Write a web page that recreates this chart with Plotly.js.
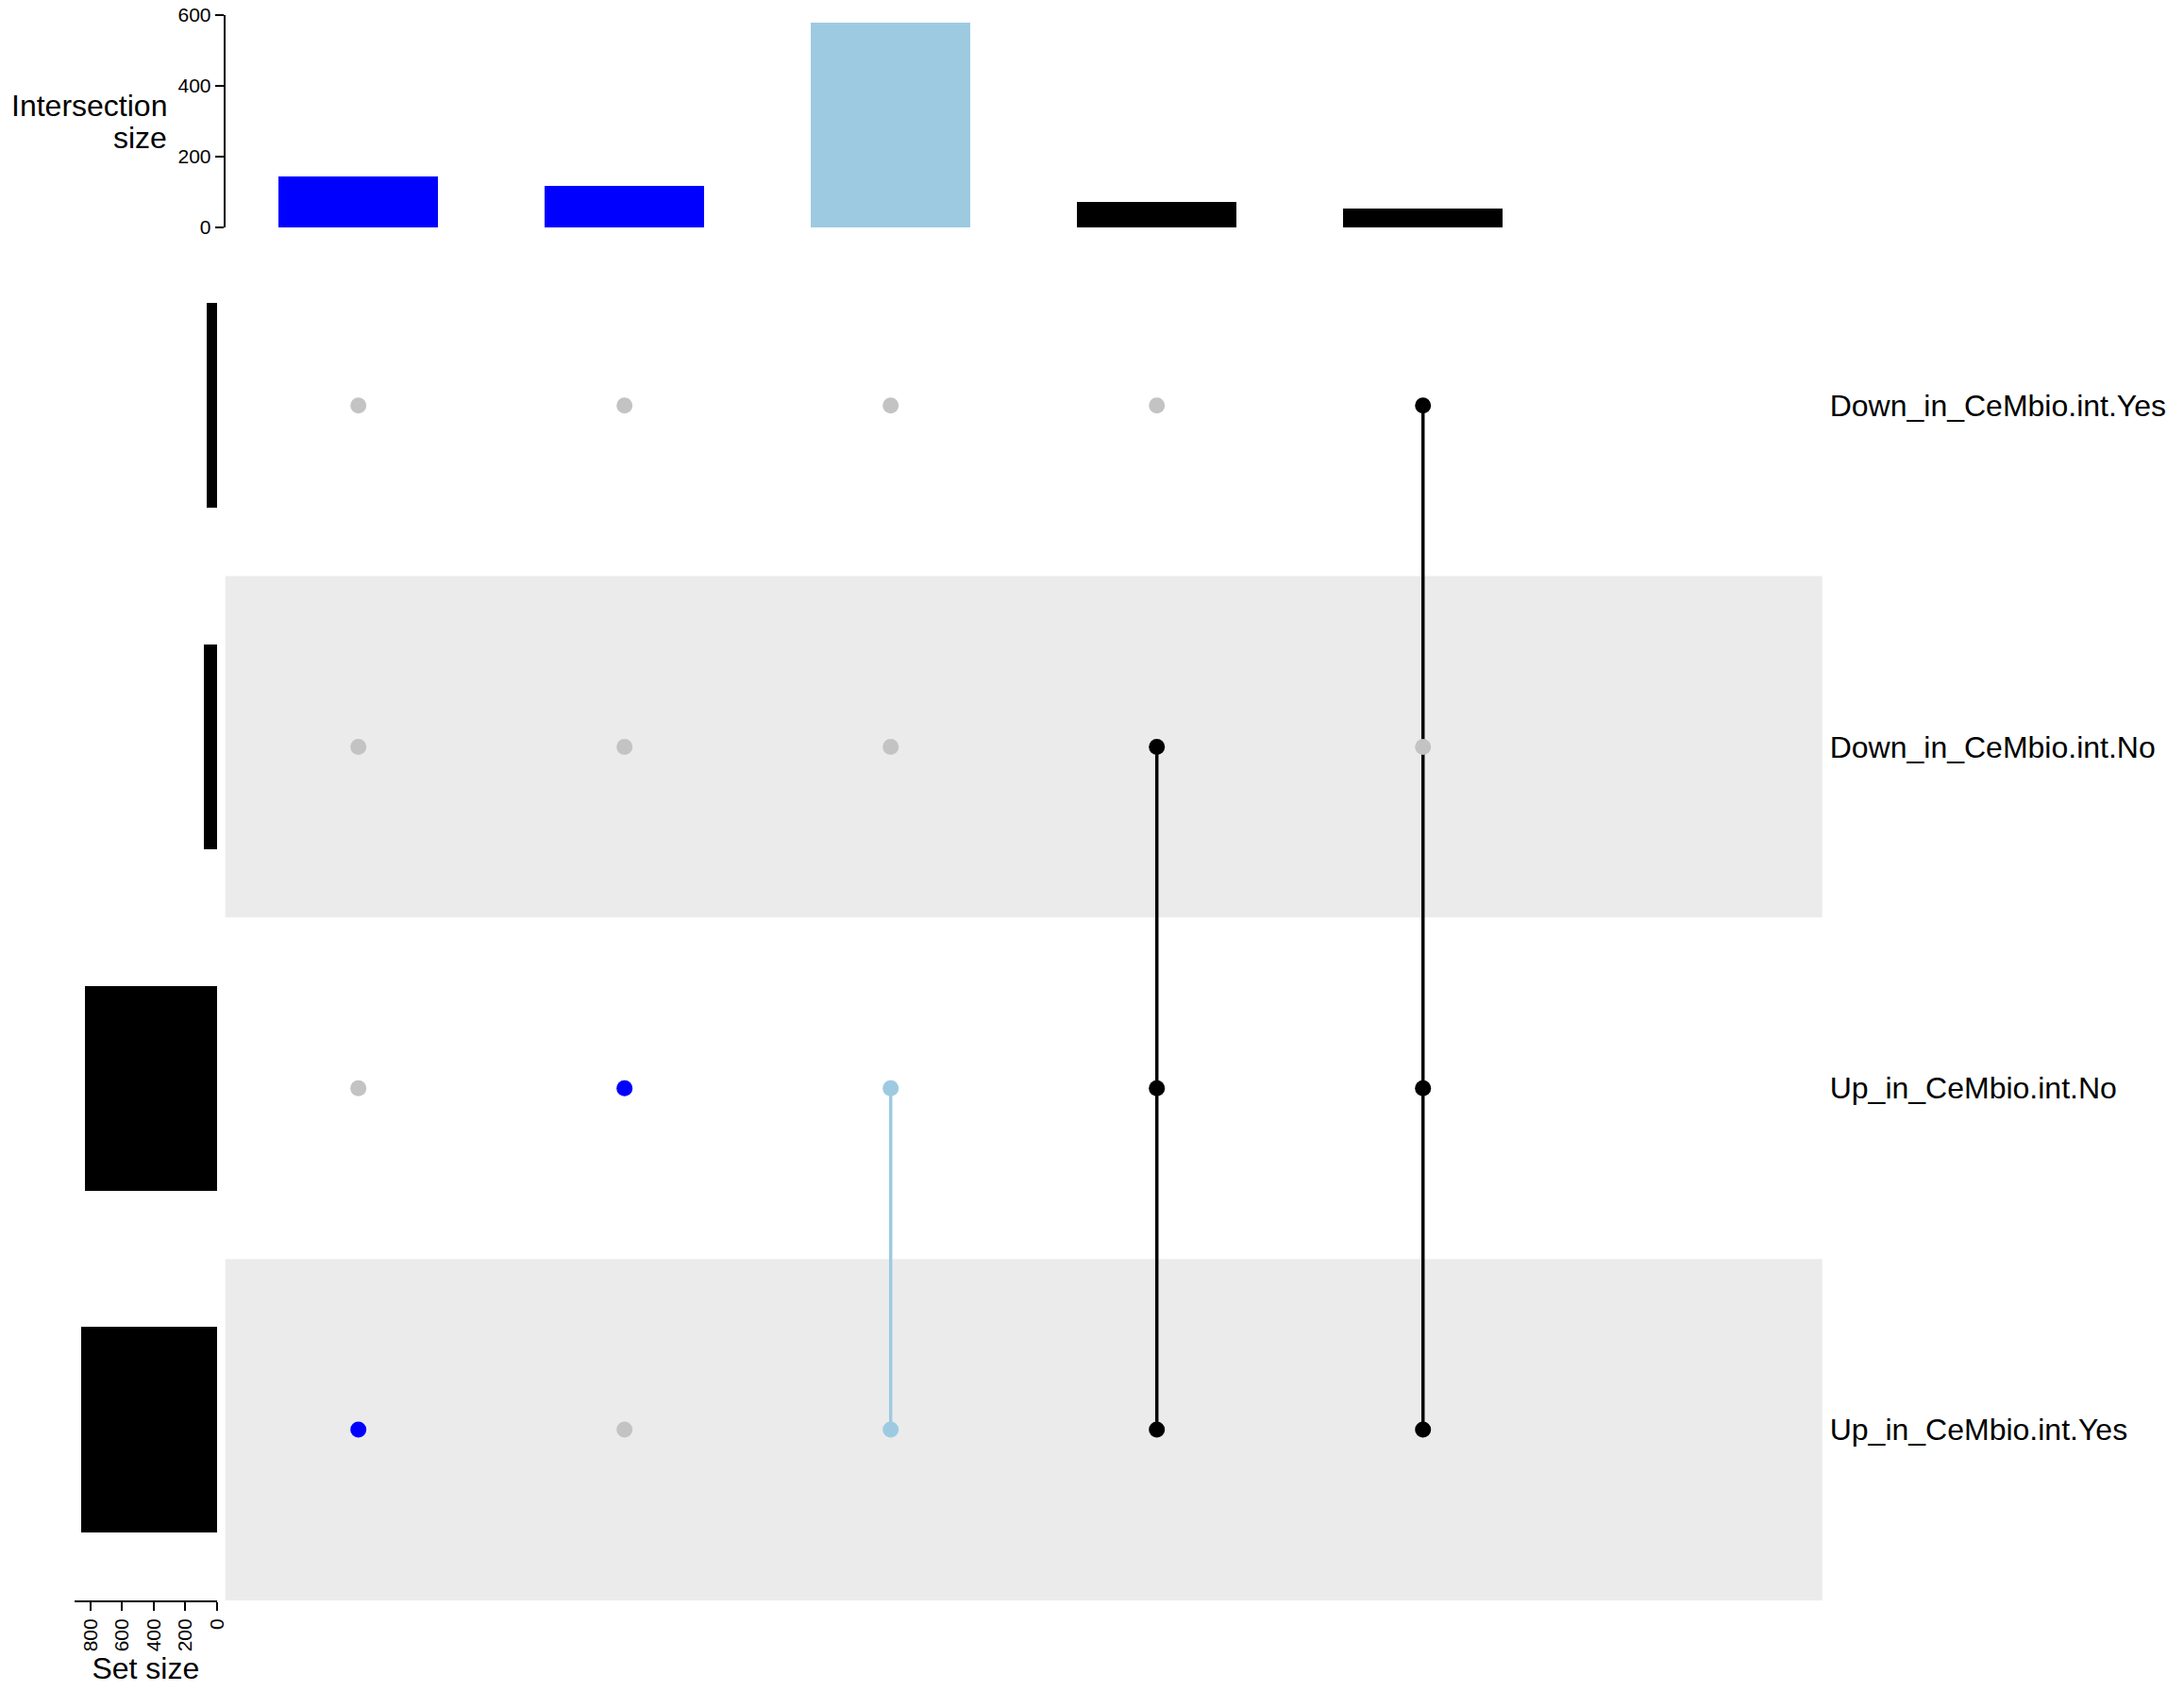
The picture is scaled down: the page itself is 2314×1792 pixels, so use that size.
<!DOCTYPE html>
<html>
<head>
<meta charset="utf-8">
<script src="https://cdn.plot.ly/plotly-3.0.1.min.js"></script>
<style>html,body{margin:0;padding:0;background:#fff;}#chart{width:2314px;height:1792px;}</style>
</head>
<body>
<div id="chart"></div>
<script>
// ---- data ----
const sets = ["Up_in_CeMbio.int.Yes", "Up_in_CeMbio.int.No", "Down_in_CeMbio.int.No", "Down_in_CeMbio.int.Yes"]; // bottom to top
const setSizes = [860, 834, 85, 66];
const intersectionSets = [
  ["Up_in_CeMbio.int.Yes"],
  ["Up_in_CeMbio.int.No"],
  ["Up_in_CeMbio.int.Yes", "Up_in_CeMbio.int.No"],
  ["Up_in_CeMbio.int.Yes", "Up_in_CeMbio.int.No", "Down_in_CeMbio.int.No"],
  ["Up_in_CeMbio.int.Yes", "Up_in_CeMbio.int.No", "Down_in_CeMbio.int.Yes"]
];
const intersectionSizes = [144, 118, 577, 71, 53];
const intersectionColors = ["#0000FF", "#0000FF", "#9ECAE1", "#000000", "#000000"];
const sizeTicks = [0, 200, 400, 600];
const setTicks = [0, 200, 400, 600, 800];

// ---- layout helpers ----
const W = 2314, H = 1792;
const fx = p => p / W;
const fy = p => 1 - p / H;
const FONT = "Liberation Sans, Arial, Helvetica, sans-serif";
const greyDot = "#C3C3C3";
const band = "#EBEBEB";

const colIdx = intersectionSizes.map((_, i) => i + 1);
const rowIdx = sets.map((_, i) => i + 1);

const traces = [];

// top intersection bars
traces.push({
  type: "bar", x: colIdx, y: intersectionSizes, width: 0.6,
  marker: {color: intersectionColors, line: {width: 0}},
  xaxis: "x", yaxis: "y", hoverinfo: "skip"
});

// set size bars
traces.push({
  type: "bar", orientation: "h", x: setSizes, y: rowIdx, width: 0.6,
  marker: {color: "#000000", line: {width: 0}},
  xaxis: "x2", yaxis: "y2", hoverinfo: "skip"
});

// matrix connecting lines
intersectionSets.forEach((members, c) => {
  const rows = members.map(s => sets.indexOf(s) + 1);
  if (rows.length > 1) {
    traces.push({
      type: "scatter", mode: "lines",
      x: [c + 1, c + 1], y: [Math.min(...rows), Math.max(...rows)],
      line: {color: intersectionColors[c], width: 3.5},
      xaxis: "x", yaxis: "y2", hoverinfo: "skip"
    });
  }
});

// matrix dots
const dx = [], dy = [], dc = [];
intersectionSets.forEach((members, c) => {
  sets.forEach((s, r) => {
    dx.push(c + 1); dy.push(r + 1);
    dc.push(members.includes(s) ? intersectionColors[c] : greyDot);
  });
});
traces.push({
  type: "scatter", mode: "markers", x: dx, y: dy,
  marker: {color: dc, size: 17, line: {width: 0}},
  xaxis: "x", yaxis: "y2", hoverinfo: "skip"
});

// shaded rows (alternate)
const shapes = [];
rowIdx.forEach(r => {
  if (r % 2 === 1) {
    shapes.push({
      type: "rect", layer: "below", xref: "x domain", yref: "y2",
      x0: 0, x1: 1, y0: r - 0.5, y1: r + 0.5,
      fillcolor: band, line: {width: 0}
    });
  }
});

const layout = {
  width: W, height: H,
  margin: {l: 0, r: 0, t: 0, b: 0},
  paper_bgcolor: "#ffffff", plot_bgcolor: "rgba(0,0,0,0)",
  showlegend: false, hovermode: false,
  font: {family: FONT, color: "#000000"},
  bargap: 0,
  xaxis: {
    domain: [fx(238.7), fx(1930.7)], range: [0.5, 6.5], anchor: "y",
    showticklabels: false, ticks: "", showline: false, showgrid: false, zeroline: false
  },
  yaxis: {
    domain: [fy(241), fy(15.7)], range: [0, 600], anchor: "x",
    tickvals: sizeTicks, ticks: "outside", ticklen: 9, tickwidth: 2, tickcolor: "#000",
    showline: true, linewidth: 2, linecolor: "#000",
    showgrid: false, zeroline: false,
    tickfont: {size: 21, family: FONT, color: "#000"}
  },
  yaxis2: {
    domain: [fy(1695.9), fy(248.8)], range: [0.5, 4.5], anchor: "x", side: "right",
    tickvals: rowIdx, ticktext: sets, ticks: "", showline: false, showgrid: false, zeroline: false,
    ticklabelstandoff: 7,
    tickfont: {size: 32, family: FONT, color: "#000"}
  },
  xaxis2: {
    domain: [fx(78.7), fx(230)], range: [903, 0], anchor: "y2", side: "bottom",
    tickvals: setTicks, tickangle: -90, ticks: "outside", ticklen: 9, tickwidth: 2, tickcolor: "#000",
    showline: true, linewidth: 2, linecolor: "#000",
    showgrid: false, zeroline: false,
    tickfont: {size: 21, family: FONT, color: "#000"},
    title: {text: "Set size", font: {size: 32, family: FONT, color: "#000"}, standoff: 4}
  },
  shapes: shapes,
  annotations: [
    {text: "Intersection", xref: "paper", yref: "paper", x: fx(179), y: fy(112),
     xanchor: "right", yanchor: "middle", showarrow: false,
     font: {size: 32, family: FONT, color: "#000"}},
    {text: "size", xref: "paper", yref: "paper", x: fx(179), y: fy(146),
     xanchor: "right", yanchor: "middle", showarrow: false,
     font: {size: 32, family: FONT, color: "#000"}}
  ]
};

Plotly.newPlot("chart", traces, layout, {staticPlot: true, displayModeBar: false});
</script>
</body>
</html>
